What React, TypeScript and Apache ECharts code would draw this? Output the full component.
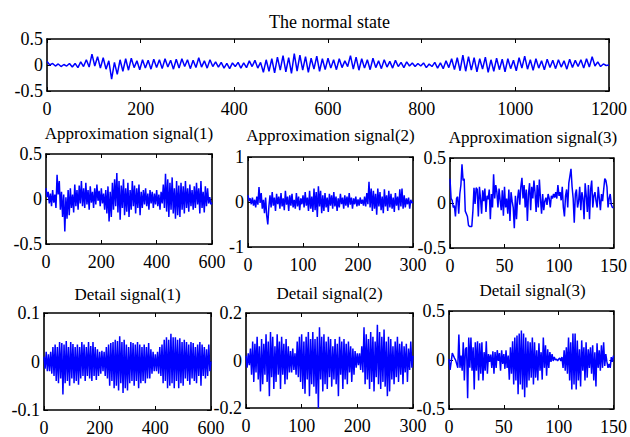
import React, { useEffect, useRef } from "react";
import * as echarts from "echarts";

// ---------- data ----------
const normalStateStep = 6;
const normalStateValues = [
  0.07, 0.0, 0.03, -0.02, 0.02, -0.03, 0.01, -0.02, 0.03, -0.04,
  0.03, -0.05, 0.06, -0.03, 0.10, -0.04, 0.21, -0.02, 0.16, -0.06,
  0.14, -0.08, 0.08, -0.27, 0.05, -0.18, 0.10, -0.12, 0.12, -0.10,
  0.13, -0.05, 0.08, -0.09, 0.10, -0.06, 0.09, -0.08, 0.11, -0.05,
  0.10, -0.07, 0.12, -0.04, 0.09, -0.08, 0.11, -0.06, 0.12, -0.03,
  0.10, -0.07, 0.09, -0.05, 0.14, -0.04, 0.08, -0.06, 0.10, -0.03,
  0.06, -0.04, 0.05, -0.06, 0.03, -0.07, 0.04, -0.03, 0.05, -0.06,
  0.04, -0.05, 0.08, -0.03, 0.09, -0.06, 0.05, -0.14, 0.10, -0.12,
  0.12, -0.15, 0.15, -0.10, 0.18, -0.13, 0.14, -0.16, 0.22, -0.12,
  0.19, -0.10, 0.16, -0.14, 0.13, -0.08, 0.17, -0.12, 0.12, -0.09,
  0.13, -0.06, 0.10, -0.09, 0.12, -0.05, 0.08, -0.03, 0.18, -0.08,
  0.15, -0.10, 0.12, -0.06, 0.10, -0.09, 0.13, -0.05, 0.08, -0.07,
  0.10, -0.04, 0.07, -0.06, 0.09, -0.03, 0.05, -0.05, 0.06, -0.02,
  0.04, -0.03, 0.03, -0.02, 0.04, -0.05, 0.02, -0.03, 0.05, -0.06,
  0.04, -0.07, 0.08, -0.05, 0.12, -0.09, 0.14, -0.11, 0.19, -0.12,
  0.16, -0.10, 0.14, -0.13, 0.12, -0.08, 0.15, -0.14, 0.10, -0.12,
  0.13, -0.09, 0.11, -0.13, 0.12, -0.07, 0.09, -0.11, 0.14, -0.06,
  0.17, -0.08, 0.10, -0.10, 0.12, -0.06, 0.08, -0.09, 0.11, -0.05,
  0.09, -0.07, 0.10, -0.04, 0.08, -0.08, 0.11, -0.05, 0.09, -0.03,
  0.10, -0.06, 0.12, -0.04, 0.16, -0.02, 0.06, -0.03, 0.02, -0.01,
  0.0,
];

const approx1Step = 4;
const approx1Values = [
  0.12, 0.02, 0.08, -0.05, 0.06, -0.08, 0.10, -0.04, 0.05, -0.10,
  0.27, 0.05, 0.20, -0.12, 0.08, -0.20, 0.05, -0.36, 0.02, -0.22,
  0.10, -0.18, 0.12, -0.10, 0.05, -0.15, 0.16, -0.08, 0.10, -0.12,
  0.15, -0.05, 0.20, -0.08, 0.12, -0.10, 0.18, -0.06, 0.10, -0.12,
  0.14, -0.04, 0.08, -0.10, 0.12, -0.06, 0.16, -0.02, 0.09, -0.08,
  0.12, -0.05, 0.06, -0.12, 0.10, -0.16, 0.14, -0.25, 0.08, -0.20,
  0.18, -0.12, 0.22, -0.08, 0.29, -0.15, 0.20, -0.23, 0.15, -0.10,
  0.22, -0.18, 0.12, -0.14, 0.18, -0.20, 0.10, -0.12, 0.20, -0.08,
  0.15, -0.16, 0.12, -0.10, 0.16, -0.18, 0.08, -0.10, 0.10, -0.06,
  0.12, -0.08, 0.06, -0.12, 0.10, -0.05, 0.08, -0.10, 0.06, -0.06,
  0.10, -0.08, 0.05, -0.12, 0.08, -0.05, 0.16, -0.10, 0.28, -0.14,
  0.22, -0.20, 0.18, -0.12, 0.24, -0.16, 0.12, -0.22, 0.20, -0.18,
  0.15, -0.20, 0.18, -0.12, 0.14, -0.16, 0.20, -0.10, 0.12, -0.14,
  0.16, -0.08, 0.10, -0.12, 0.14, -0.10, 0.18, -0.06, 0.12, -0.16,
  0.20, -0.10, 0.08, -0.15, 0.14, -0.08, 0.12, -0.05, 0.02, -0.06,
  -0.04,
];

const approx2Step = 2;
const approx2Values = [
  0.15, 0.02, 0.08, -0.05, 0.10, -0.08, 0.05, -0.12, 0.12, -0.06,
  0.33, -0.02, 0.20, -0.15, 0.05, -0.25, 0.10, -0.30, -0.50, -0.10,
  0.15, -0.12, 0.22, -0.08, 0.10, -0.20, 0.18, -0.05, 0.12, -0.15,
  0.20, -0.10, 0.08, -0.18, 0.25, -0.06, 0.12, -0.20, 0.15, -0.08,
  0.18, -0.12, 0.05, -0.15, 0.20, -0.10, 0.12, -0.18, 0.08, -0.05,
  0.15, -0.12, 0.22, -0.08, 0.10, -0.20, 0.25, -0.15, 0.12, -0.22,
  0.30, -0.18, 0.22, -0.33, 0.35, -0.10, 0.25, -0.25, 0.15, -0.20,
  0.20, -0.12, 0.10, -0.22, 0.18, -0.08, 0.15, -0.15, 0.22, -0.10,
  0.12, -0.20, 0.08, -0.12, 0.18, -0.05, 0.10, -0.15, 0.15, -0.08,
  0.12, -0.12, 0.20, -0.06, 0.10, -0.15, 0.08, -0.05, 0.12, -0.10,
  0.06, -0.08, 0.10, -0.04, 0.05, -0.08, 0.12, -0.10, 0.20, -0.05,
  0.45, -0.12, 0.30, -0.20, 0.25, -0.15, 0.18, -0.28, 0.30, -0.10,
  0.22, -0.18, 0.12, -0.25, 0.28, -0.10, 0.15, -0.20, 0.25, -0.12,
  0.18, -0.15, 0.10, -0.22, 0.20, -0.08, 0.12, -0.18, 0.28, -0.10,
  0.30, -0.15, 0.15, -0.12, 0.08, -0.05, 0.10, -0.15, 0.05, -0.02,
  0.0,
];

const approx3Step = 1;
const approx3Values = [
  0.27, 0.05, 0.03, -0.05, -0.03, -0.15, 0.05, 0.07, -0.12, 0.10,
  0.20, 0.43, 0.25, 0.27, -0.09, -0.12, -0.15, -0.25, -0.26, -0.26,
  -0.26, -0.09, 0.17, -0.01, 0.17, 0.15, -0.15, 0.18, 0.05, -0.12,
  0.14, 0.02, 0.16, -0.10, 0.08, 0.04, 0.15, -0.18, 0.10, -0.05,
  0.32, 0.05, 0.20, 0.12, -0.05, 0.16, 0.03, -0.08, 0.14, -0.14,
  0.18, -0.05, 0.05, -0.12, 0.15, -0.20, 0.12, 0.02, -0.05, -0.28,
  0.08, -0.18, 0.05, 0.15, -0.02, 0.18, 0.28, 0.05, 0.20, -0.05,
  0.15, -0.20, 0.10, 0.22, -0.08, 0.18, 0.05, 0.25, 0.12, -0.10,
  0.20, -0.05, 0.26, 0.05, -0.12, 0.10, -0.08, 0.02, 0.06, -0.02,
  0.10, 0.05, -0.05, 0.08, 0.05, 0.10, 0.06, 0.12, 0.05, 0.20,
  0.08, 0.12, 0.03, 0.18, -0.05, -0.15, 0.08, 0.15, -0.05, 0.22,
  0.30, 0.38, 0.18, 0.05, -0.22, 0.10, 0.15, -0.05, 0.02, 0.18,
  -0.08, 0.12, 0.05, -0.18, 0.22, 0.08, -0.10, 0.20, -0.18, 0.15,
  0.25, -0.05, 0.08, 0.12, 0.02, -0.05, 0.18, 0.05, -0.08, 0.10,
  0.02, 0.15, 0.27, 0.25, 0.18, -0.05, 0.05, 0.10, -0.02, -0.05,
  -0.05,
];

const detail1Step = 4;
const detail1Values = [
  0.01, -0.015, 0.02, -0.02, 0.015, -0.02, 0.02, -0.025, 0.03, -0.03,
  0.035, -0.04, 0.03, -0.045, 0.04, -0.035, 0.038, -0.068, 0.035, -0.045,
  0.042, -0.04, 0.03, -0.05, 0.04, -0.035, 0.036, -0.045, 0.03, -0.04,
  0.035, -0.048, 0.03, -0.035, 0.04, -0.03, 0.035, -0.04, 0.03, -0.03,
  0.04, -0.035, 0.032, -0.04, 0.04, -0.03, 0.03, -0.038, 0.025, -0.03,
  0.02, -0.025, 0.022, -0.02, 0.02, -0.03, 0.03, -0.035, 0.035, -0.05,
  0.038, -0.04, 0.04, -0.055, 0.045, -0.05, 0.042, -0.06, 0.052, -0.045,
  0.04, -0.065, 0.045, -0.055, 0.035, -0.06, 0.03, -0.045, 0.04, -0.04,
  0.038, -0.05, 0.035, -0.04, 0.04, -0.055, 0.035, -0.045, 0.03, -0.04,
  0.035, -0.045, 0.03, -0.035, 0.038, -0.035, 0.025, -0.025, 0.02, -0.02,
  0.015, -0.02, 0.02, -0.025, 0.03, -0.03, 0.035, -0.045, 0.045, -0.04,
  0.05, -0.055, 0.045, -0.05, 0.057, -0.045, 0.05, -0.055, 0.05, -0.04,
  0.045, -0.055, 0.048, -0.045, 0.04, -0.05, 0.045, -0.035, 0.04, -0.04,
  0.035, -0.048, 0.04, -0.035, 0.038, -0.04, 0.03, -0.045, 0.035, -0.03,
  0.04, -0.05, 0.035, -0.03, 0.03, -0.035, 0.025, -0.03, 0.035, -0.02,
  0.0,
];

const detail2Step = 2;
const detail2Values = [
  0.02, -0.03, 0.03, -0.02, 0.05, -0.06, 0.08, -0.09, 0.07, -0.05,
  0.10, -0.08, 0.06, -0.13, 0.09, -0.10, 0.07, -0.06, 0.11, -0.09,
  0.08, -0.15, 0.12, -0.07, 0.10, -0.12, 0.06, -0.09, 0.11, -0.06,
  0.08, -0.12, 0.10, -0.06, 0.07, -0.10, 0.09, -0.08, 0.06, -0.05,
  0.04, -0.05, 0.05, -0.04, 0.03, -0.06, 0.08, -0.07, 0.10, -0.09,
  0.11, -0.12, 0.08, -0.14, 0.10, -0.08, 0.12, -0.15, 0.09, -0.10,
  0.12, -0.11, 0.09, -0.14, 0.10, -0.20, 0.14, -0.08, 0.10, -0.13,
  0.11, -0.10, 0.08, -0.12, 0.10, -0.07, 0.09, -0.11, 0.06, -0.08,
  0.09, -0.10, 0.07, -0.15, 0.10, -0.06, 0.08, -0.12, 0.09, -0.08,
  0.07, -0.10, 0.08, -0.05, 0.06, -0.09, 0.05, -0.06, 0.04, -0.03,
  0.03, -0.02, 0.03, -0.04, 0.06, -0.05, 0.14, -0.10, 0.11, -0.08,
  0.09, -0.12, 0.12, -0.09, 0.10, -0.13, 0.08, -0.07, 0.15, -0.10,
  0.12, -0.12, 0.10, -0.09, 0.13, -0.11, 0.08, -0.15, 0.10, -0.13,
  0.09, -0.08, 0.06, -0.10, 0.08, -0.07, 0.10, -0.09, 0.07, -0.06,
  0.08, -0.10, 0.06, -0.05, 0.07, -0.09, 0.05, -0.04, 0.08, -0.03,
  0.02,
];

const detail3Step = 1;
const detail3Values = [
  0.01, -0.10, -0.02, 0.07, 0.045, 0.02, 0.0, -0.04, -0.08, 0.26,
  -0.08, 0.045, -0.11, 0.18, -0.21, 0.11, 0.13, -0.39, 0.23, -0.08,
  0.23, -0.11, 0.13, -0.30, 0.18, -0.11, 0.19, -0.21, 0.17, -0.14,
  0.18, -0.21, 0.08, -0.11, 0.19, -0.14, 0.06, -0.02, 0.055, -0.08,
  0.09, -0.14, 0.08, -0.08, 0.10, -0.01, 0.07, -0.11, 0.10, -0.04,
  0.06, -0.09, 0.10, -0.08, 0.045, -0.20, 0.13, -0.14, 0.19, -0.25,
  0.23, -0.21, 0.25, -0.35, 0.27, -0.25, 0.30, -0.30, 0.27, -0.38,
  0.23, -0.28, 0.19, -0.21, 0.18, -0.18, 0.23, -0.25, 0.18, -0.18,
  0.10, -0.21, 0.17, -0.11, 0.08, -0.20, 0.23, -0.08, 0.15, -0.16,
  0.11, -0.08, 0.08, -0.02, 0.06, -0.01, 0.03, 0.0, 0.01, -0.01,
  0.01, 0.02, -0.01, 0.03, -0.08, 0.10, -0.11, 0.13, -0.14, 0.23,
  -0.21, 0.18, -0.30, 0.27, -0.25, 0.27, -0.30, 0.20, -0.21, 0.11,
  -0.27, 0.20, -0.11, 0.13, -0.21, 0.18, -0.18, 0.11, -0.08, 0.13,
  -0.14, 0.15, -0.21, 0.08, -0.27, 0.17, -0.08, 0.10, -0.11, 0.15,
  -0.08, 0.18, -0.06, 0.06, -0.02, -0.08, -0.04, -0.08, 0.03, -0.02,
  0.045,
];

const panelTitles = [
  "The normal state",
  "Approximation signal(1)",
  "Approximation signal(2)",
  "Approximation signal(3)",
  "Detail signal(1)",
  "Detail signal(2)",
  "Detail signal(3)",
];
const xMaxes = [1200, 600, 300, 150, 600, 300, 150];
const xIntervals = [200, 200, 100, 50, 200, 100, 50];
const yLimits = [0.5, 0.5, 1, 0.5, 0.1, 0.2, 0.5];
const seriesValues = [
  normalStateValues, approx1Values, approx2Values, approx3Values,
  detail1Values, detail2Values, detail3Values,
];
const seriesSteps = [
  normalStateStep, approx1Step, approx2Step, approx3Step,
  detail1Step, detail2Step, detail3Step,
];

// ---------- layout (pixels) ----------
const frames = [
  { left: 47, top: 39, right: 612, bottom: 91, titleY: 22, titleSize: 18 },
  { left: 46, top: 154, right: 212, bottom: 244, titleY: 133, titleSize: 17 },
  { left: 248, top: 157, right: 413, bottom: 247, titleY: 135, titleSize: 17 },
  { left: 450, top: 158, right: 616, bottom: 248, titleY: 137, titleSize: 17 },
  { left: 44, top: 313, right: 211, bottom: 410, titleY: 294, titleSize: 17 },
  { left: 246, top: 313, right: 413, bottom: 408, titleY: 293, titleSize: 17 },
  { left: 449, top: 311, right: 616, bottom: 409, titleY: 290, titleSize: 17 },
];

const FONT = "'Liberation Serif', 'Times New Roman', serif";
const TICK_FONT_SIZE = 18;

function fmt(v: number): string {
  const r = Math.round(v * 1000) / 1000;
  return String(r === 0 ? 0 : r);
}

export default function App() {
  const ref = useRef<HTMLDivElement>(null);

  useEffect(() => {
    if (!ref.current) return;
    const chart = echarts.init(ref.current, undefined, { renderer: "svg" });

    const axisLine = { show: true, onZero: false, lineStyle: { color: "#000", width: 1.6 } };
    const tick = { show: true, inside: true, length: 4, lineStyle: { color: "#000", width: 1 } };

    const grid: any[] = [];
    const xAxis: any[] = [];
    const yAxis: any[] = [];
    const series: any[] = [];
    const graphic: any[] = [];

    frames.forEach((f, i) => {
      grid.push({
        left: f.left,
        top: f.top,
        width: f.right - f.left,
        height: f.bottom - f.top,
        containLabel: false,
      });
      const xBase = {
        type: "value",
        gridIndex: i,
        min: 0,
        max: xMaxes[i],
        interval: xIntervals[i],
        axisLine,
        axisTick: tick,
        splitLine: { show: false },
      };
      xAxis.push({
        ...xBase,
        position: "bottom",
        axisLabel: {
          show: true,
          color: "#000",
          fontFamily: FONT,
          fontSize: TICK_FONT_SIZE,
          margin: 9,
          formatter: fmt,
        },
      });
      xAxis.push({ ...xBase, position: "top", axisLabel: { show: false } });
      const yBase = {
        type: "value",
        gridIndex: i,
        min: -yLimits[i],
        max: yLimits[i],
        interval: yLimits[i],
        axisLine,
        axisTick: tick,
        splitLine: { show: false },
      };
      yAxis.push({
        ...yBase,
        position: "left",
        axisLabel: {
          show: true,
          color: "#000",
          fontFamily: FONT,
          fontSize: TICK_FONT_SIZE,
          margin: 4,
          formatter: fmt,
        },
      });
      yAxis.push({ ...yBase, position: "right", axisLabel: { show: false } });

      series.push({
        type: "line",
        xAxisIndex: 2 * i,
        yAxisIndex: 2 * i,
        data: seriesValues[i].map((v, k) => [k * seriesSteps[i], v]),
        showSymbol: false,
        symbol: "none",
        clip: true,
        silent: true,
        lineStyle: { color: "#0000ff", width: 1.5 },
      });

      graphic.push({
        type: "text",
        x: (f.left + f.right) / 2,
        y: f.titleY,
        style: {
          text: panelTitles[i],
          fontFamily: FONT,
          fontSize: f.titleSize,
          fill: "#000",
          textAlign: "center",
          textVerticalAlign: "middle",
        },
      });
    });

    chart.setOption({
      animation: false,
      backgroundColor: "#fff",
      grid,
      xAxis,
      yAxis,
      series,
      graphic,
    });

    return () => chart.dispose();
  }, []);

  return (
    <div
      ref={ref}
      style={{ position: "fixed", left: 0, top: 0, width: 630, height: 437, background: "#fff" }}
    />
  );
}
